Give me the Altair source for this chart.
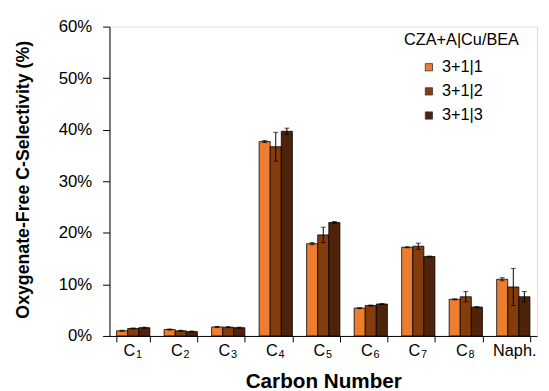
import altair as alt
import pandas as pd

categories = ["C1", "C2", "C3", "C4", "C5", "C6", "C7", "C8", "Naph."]
label_main = ["C", "C", "C", "C", "C", "C", "C", "C", ""]
label_sub = ["1", "2", "3", "4", "5", "6", "7", "8", ""]
label_whole = ["", "", "", "", "", "", "", "", "Naph."]
series = ["3+1|1", "3+1|2", "3+1|3"]
s1 = [1.0, 1.25, 1.75, 37.7, 17.9, 5.4, 17.2, 7.1, 11.0]
s2 = [1.45, 1.0, 1.7, 36.7, 19.6, 5.9, 17.4, 7.6, 9.5]
s3 = [1.6, 0.85, 1.6, 39.7, 22.0, 6.2, 15.4, 5.6, 7.6]
e1 = [0.1, 0.1, 0.1, 0.2, 0.2, 0.1, 0.1, 0.1, 0.3]
e2 = [0.1, 0.1, 0.1, 2.8, 1.5, 0.1, 0.6, 1.0, 3.6]
e3 = [0.1, 0.1, 0.1, 0.6, 0.2, 0.1, 0.1, 0.1, 1.0]
colors = ["#ED7D31", "#843C0C", "#4F230A"]
y_ticks = [0, 10, 20, 30, 40, 50, 60]
legend_title_text = "CZA+A|Cu/BEA"

FONT = "Liberation Sans"

rows = []
for name, vals, errs in zip(series, [s1, s2, s3], [e1, e2, e3]):
    for c, v, e in zip(categories, vals, errs):
        rows.append({"cat": c, "series": name, "value": v, "lo": v - e, "hi": v + e})
df = pd.DataFrame(rows)
lab = pd.DataFrame({"cat": categories, "main": label_main, "sub": label_sub,
                    "whole": label_whole})

x_enc = alt.X("cat:N", sort=categories,
              scale=alt.Scale(paddingInner=0.3, paddingOuter=0.15),
              axis=alt.Axis(title="Carbon Number", labels=False, tickBand="extent",
                            tickSize=6, titleFontSize=21, titleFontWeight="bold",
                            titleX=217, titleY=52, titleBaseline="alphabetic",
                            domainColor="black", tickColor="black",
                            titleColor="black", titleFont=FONT))
xo = alt.XOffset("series:N", sort=series, scale=alt.Scale(paddingInner=0, paddingOuter=0))
x_plain = alt.X("cat:N", sort=categories)

bars = alt.Chart(df).mark_bar(stroke="black", strokeWidth=0.8).encode(
    x=x_enc,
    xOffset=xo,
    y=alt.Y("value:Q", scale=alt.Scale(domain=[0, 60], nice=False),
            axis=alt.Axis(values=y_ticks, labelExpr="datum.value + '%'", grid=False,
                          title="Oxygenate-Free C-Selectivity (%)", titleFontSize=18,
                          titleFontWeight="bold", labelFontSize=17, tickSize=7,
                          labelPadding=11, titleX=-87, titleY=155, titleAngle=-90,
                          titleBaseline="middle", titleAlign="center",
                          domainColor="black", tickColor="black", labelColor="black",
                          titleColor="black", labelFont=FONT, titleFont=FONT)),
    color=alt.Color("series:N", sort=series,
                    scale=alt.Scale(domain=series, range=colors),
                    legend=alt.Legend(title=None, orient="none", legendX=316, legendY=33,
                                      symbolType="square", symbolSize=54,
                                      symbolStrokeColor="#333333", symbolStrokeWidth=0.8,
                                      labelFontSize=16.5, labelFont=FONT,
                                      labelColor="black", rowPadding=7.5, labelOffset=5)),
)

err = alt.Chart(df).mark_rule(color="black", strokeWidth=1).encode(
    x=x_plain, xOffset=xo, y="lo:Q", y2="hi:Q")
cap_lo = alt.Chart(df).mark_tick(color="black", size=5, thickness=1).encode(
    x=x_plain, xOffset=xo, y="lo:Q")
cap_hi = alt.Chart(df).mark_tick(color="black", size=5, thickness=1).encode(
    x=x_plain, xOffset=xo, y="hi:Q")

lab_main = alt.Chart(lab).mark_text(
    align="right", baseline="alphabetic", dx=2, fontSize=16.5, font=FONT, color="black"
).encode(x=x_plain, y=alt.value(334.3), text="main:N")
lab_sub = alt.Chart(lab).mark_text(
    align="left", baseline="alphabetic", dx=2.8, fontSize=11, font=FONT, color="black"
).encode(x=x_plain, y=alt.value(336.8), text="sub:N")
lab_whole = alt.Chart(lab).mark_text(
    align="center", baseline="alphabetic", dx=1.5, fontSize=16.5, font=FONT, color="black"
).encode(x=x_plain, y=alt.value(334.3), text="whole:N")

legend_title = alt.Chart(pd.DataFrame({"t": [legend_title_text]})).mark_text(
    align="left", baseline="middle", fontSize=16.5, font=FONT, color="black"
).encode(x=alt.value(299), y=alt.value(13.5), text="t:N")

chart = alt.layer(bars, err, cap_lo, cap_hi, lab_main, lab_sub, lab_whole,
                  legend_title).properties(
    width=434, height=314,
    autosize=alt.AutoSizeParams(type="none"),
    padding={"left": 103, "top": 16, "right": 4, "bottom": 53},
).configure_view(stroke="#404040", strokeWidth=1).configure(
    font=FONT
)

chart.save("out.html", embed_options={"renderer": "svg", "actions": False})
